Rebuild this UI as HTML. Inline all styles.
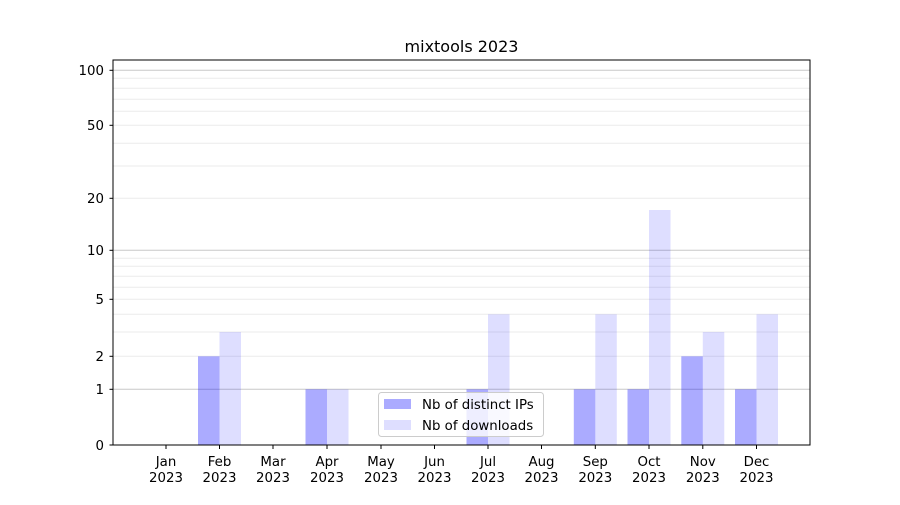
<!DOCTYPE html>
<html><head><meta charset="utf-8"><style>
body{margin:0;background:#fff;}
svg text{font-family:"DejaVu Sans","Liberation Sans",sans-serif;font-size:13.33px;fill:#000;}
</style></head><body>
<svg width="900" height="500" xmlns="http://www.w3.org/2000/svg">
<rect width="900" height="500" fill="#fff"/>
<g stroke="#ebebeb" stroke-width="1">
<line x1="113" x2="810" y1="78.3" y2="78.3"/><line x1="113" x2="810" y1="88.3" y2="88.3"/>
<line x1="113" x2="810" y1="99.3" y2="99.3"/><line x1="113" x2="810" y1="111.3" y2="111.3"/>
<line x1="113" x2="810" y1="125.3" y2="125.3"/><line x1="113" x2="810" y1="143.3" y2="143.3"/>
<line x1="113" x2="810" y1="166" y2="166"/><line x1="113" x2="810" y1="198.3" y2="198.3"/>
<line x1="113" x2="810" y1="258.3" y2="258.3"/><line x1="113" x2="810" y1="266.3" y2="266.3"/>
<line x1="113" x2="810" y1="276.3" y2="276.3"/><line x1="113" x2="810" y1="287.3" y2="287.3"/>
<line x1="113" x2="810" y1="299.3" y2="299.3"/><line x1="113" x2="810" y1="314.3" y2="314.3"/>
<line x1="113" x2="810" y1="332" y2="332"/><line x1="113" x2="810" y1="356.3" y2="356.3"/>
</g>
<g stroke="#c8c8c8" stroke-width="1">
<line x1="113" x2="810" y1="70.3" y2="70.3"/><line x1="113" x2="810" y1="250.3" y2="250.3"/><line x1="113" x2="810" y1="389.3" y2="389.3"/>
</g>
<g fill="#0000ff" fill-opacity="0.33">
<rect x="198" y="356.3" width="21.5" height="88.7"/>
<rect x="305.5" y="389.3" width="21.5" height="55.7"/>
<rect x="466.5" y="389.3" width="21.5" height="55.7"/>
<rect x="573.8" y="389.3" width="21.5" height="55.7"/>
<rect x="627.5" y="389.3" width="21.5" height="55.7"/>
<rect x="681.3" y="356.3" width="21.5" height="88.7"/>
<rect x="735" y="389.3" width="21.5" height="55.7"/>
</g>
<g fill="#0000ff" fill-opacity="0.13">
<rect x="219.5" y="332" width="21.5" height="113"/>
<rect x="327" y="389.3" width="21.5" height="55.7"/>
<rect x="488" y="314.3" width="21.5" height="130.7"/>
<rect x="595.3" y="314.3" width="21.5" height="130.7"/>
<rect x="649" y="210" width="21.5" height="235"/>
<rect x="702.8" y="332" width="21.5" height="113"/>
<rect x="756.5" y="314.3" width="21.5" height="130.7"/>
</g>
<rect x="113" y="60" width="697" height="385" fill="none" stroke="#000" stroke-width="1"/>
<g stroke="#000">
<line x1="109.5" x2="113" y1="70.3" y2="70.3"/><line x1="109.5" x2="113" y1="125.3" y2="125.3"/>
<line x1="109.5" x2="113" y1="198.3" y2="198.3"/><line x1="109.5" x2="113" y1="250.3" y2="250.3"/>
<line x1="109.5" x2="113" y1="299.3" y2="299.3"/><line x1="109.5" x2="113" y1="356.3" y2="356.3"/>
<line x1="109.5" x2="113" y1="389.3" y2="389.3"/><line x1="109.5" x2="113" y1="445" y2="445"/>
</g>
<g text-anchor="end">
<text x="104" y="75">100</text><text x="104" y="130">50</text><text x="104" y="203">20</text>
<text x="104" y="255">10</text><text x="104" y="304">5</text><text x="104" y="361">2</text>
<text x="104" y="394">1</text><text x="104" y="450">0</text>
</g>
<g text-anchor="middle">
<g stroke="#000">
<line x1="166" x2="166" y1="445" y2="449"/><line x1="219.5" x2="219.5" y1="445" y2="449"/>
<line x1="273" x2="273" y1="445" y2="449"/><line x1="327" x2="327" y1="445" y2="449"/>
<line x1="381" x2="381" y1="445" y2="449"/><line x1="434.5" x2="434.5" y1="445" y2="449"/>
<line x1="488" x2="488" y1="445" y2="449"/><line x1="541.5" x2="541.5" y1="445" y2="449"/>
<line x1="595.3" x2="595.3" y1="445" y2="449"/><line x1="649" x2="649" y1="445" y2="449"/>
<line x1="702.8" x2="702.8" y1="445" y2="449"/><line x1="756.5" x2="756.5" y1="445" y2="449"/>
</g>
<text x="166" y="466">Jan</text><text x="166" y="482">2023</text>
<text x="219.5" y="466">Feb</text><text x="219.5" y="482">2023</text>
<text x="273" y="466">Mar</text><text x="273" y="482">2023</text>
<text x="327" y="466">Apr</text><text x="327" y="482">2023</text>
<text x="381" y="466">May</text><text x="381" y="482">2023</text>
<text x="434.5" y="466">Jun</text><text x="434.5" y="482">2023</text>
<text x="488" y="466">Jul</text><text x="488" y="482">2023</text>
<text x="541.5" y="466">Aug</text><text x="541.5" y="482">2023</text>
<text x="595.3" y="466">Sep</text><text x="595.3" y="482">2023</text>
<text x="649" y="466">Oct</text><text x="649" y="482">2023</text>
<text x="702.8" y="466">Nov</text><text x="702.8" y="482">2023</text>
<text x="756.5" y="466">Dec</text><text x="756.5" y="482">2023</text>
<text x="461.5" y="52" style="font-size:16px">mixtools 2023</text>
</g>
<rect x="378.5" y="392.5" width="165" height="44" rx="3" fill="#fff" fill-opacity="0.8" stroke="#ccc"/>
<rect x="384" y="399" width="27" height="10" fill="#0000ff" fill-opacity="0.33"/>
<rect x="384" y="420" width="27" height="10" fill="#0000ff" fill-opacity="0.13"/>
<text x="422" y="409">Nb of distinct IPs</text>
<text x="422" y="430">Nb of downloads</text>
</svg>
</body></html>
